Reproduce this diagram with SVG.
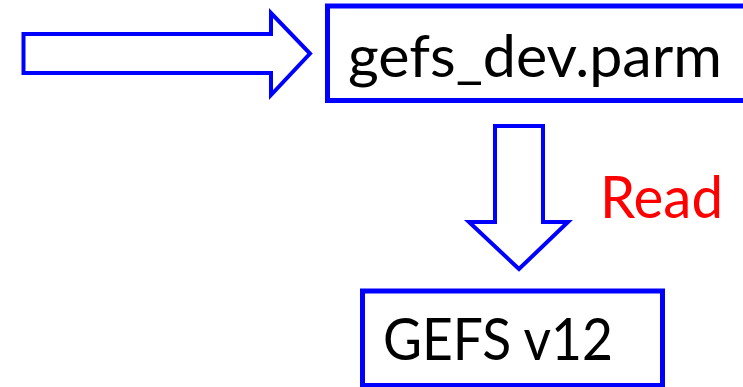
<svg xmlns="http://www.w3.org/2000/svg" width="743" height="387" viewBox="0 0 743 387">
  <style>
    .box { fill: #ffffff; stroke: #0000ff; stroke-width: 5; }
    .arrow { fill: #ffffff; stroke: #0000ff; stroke-width: 4; stroke-linejoin: miter; }
    .label { font-family: Lato, "Open Sans", "Liberation Sans", sans-serif; font-size: 58px; fill: #000000; }
    .note { font-family: Lato, "Open Sans", "Liberation Sans", sans-serif; font-size: 58px; fill: #ff0000; }
  </style>
  <rect width="743" height="387" fill="#ffffff"/>

  <g id="connectors">
    <!-- input arrow into the parameter file -->
    <polygon class="arrow" points="23.5,34 271,34 271,13 310,53.5 271,95 271,73 23.5,73"/>
    <!-- read arrow from the parameter file to the model -->
    <polygon class="arrow" points="495,126 543,126 543,222 568,222 519,269 469,222 495,222"/>
    <text class="note" x="600" y="218" textLength="123" lengthAdjust="spacingAndGlyphs">Read</text>
  </g>

  <g id="parm">
    <rect class="box" x="327.5" y="6" width="430" height="94.5"/>
    <text class="label" x="348" y="77" textLength="374" lengthAdjust="spacingAndGlyphs">gefs_dev.parm</text>
  </g>

  <g id="gefs">
    <rect class="box" x="362.5" y="291" width="300" height="94.5"/>
    <text class="label" x="383" y="360" textLength="230" lengthAdjust="spacingAndGlyphs">GEFS v12</text>
  </g>
</svg>
